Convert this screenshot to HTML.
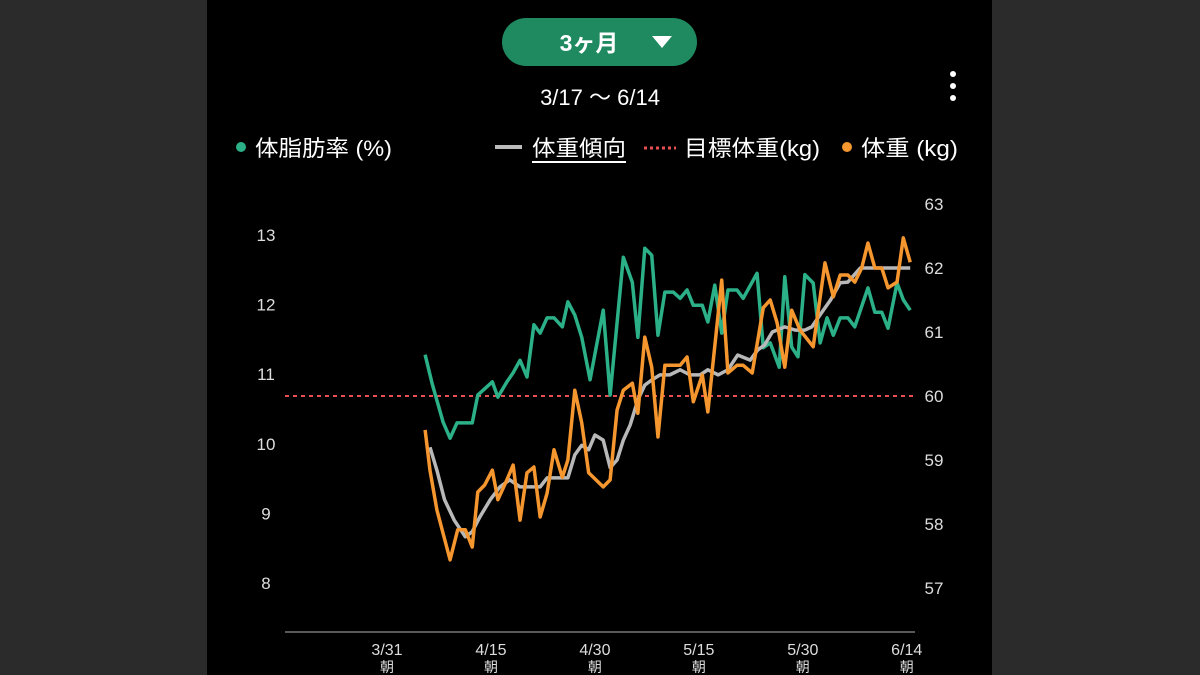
<!DOCTYPE html>
<html><head><meta charset="utf-8"><style>
body{margin:0;width:1200px;height:675px;background:#2b2b2b;overflow:hidden;font-family:"Liberation Sans","Noto Sans CJK JP",sans-serif;}
#panel{position:absolute;left:207px;top:0;width:785px;height:675px;background:#000;}
</style></head><body>
<div id="panel"></div>
<svg width="1200" height="675" style="position:absolute;left:0;top:0">
<g>
<rect x="502" y="18" width="195" height="48" rx="24" fill="#1f8a60"/>
<text x="589" y="51" fill="#fff" font-size="23" font-weight="bold" text-anchor="middle" font-family="Liberation Sans,Noto Sans CJK JP,sans-serif">3ヶ月</text>
<path d="M652 36 L672 36 L662 48 Z" fill="#fff"/>
</g>
<text x="600" y="105" fill="#fff" font-size="22" text-anchor="middle" font-family="Liberation Sans,Noto Sans CJK JP,sans-serif">3/17 ～ 6/14</text>
<g fill="#fff"><circle cx="953" cy="74" r="3"/><circle cx="953" cy="86" r="3"/><circle cx="953" cy="98" r="3"/></g>
<g font-size="22" fill="#fff" font-family="Liberation Sans,Noto Sans CJK JP,sans-serif">
<g><circle cx="241" cy="147" r="5" fill="#2bb088"/><text x="255" y="156" textLength="137" lengthAdjust="spacingAndGlyphs">体脂肪率 (%)</text></g>
<g><rect x="495" y="145" width="27" height="4" fill="#bbb"/><text x="532" y="156" textLength="94" lengthAdjust="spacingAndGlyphs">体重傾向</text><rect x="532" y="161" width="94" height="2" fill="#fff"/></g>
<g><line x1="644" y1="148" x2="676" y2="148" stroke="#e85050" stroke-width="3" stroke-dasharray="3,3"/><text x="684" y="156" textLength="136" lengthAdjust="spacingAndGlyphs">目標体重(kg)</text></g>
<g><circle cx="847" cy="147" r="5" fill="#f5962e"/><text x="861" y="156" textLength="97" lengthAdjust="spacingAndGlyphs">体重 (kg)</text></g>
</g>
<g id="axes"></g>
<g id="marks"></g>
</svg>
<script>
const leftTicks=[8,9,10,11,12,13];
const rightTicks=[57,58,59,60,61,62,63];
const xTickDays=[0,15,30,45,60,75];
const xTickLabels=["3/31","4/15","4/30","5/15","5/30","6/14"];
const targetWeight=60;
const weightDays=[5.5,6.2,7.2,9.1,10.2,11.3,12.3,13.1,14.1,15.2,16,17.3,18.2,19.2,20.2,21.2,22.1,23.1,24.1,25.3,26.1,27.1,28.1,29.1,31.2,32.2,33.2,34.1,35.4,36.2,37.2,38.2,39.1,40.1,40.8,42.3,43.3,44.2,45.5,46.3,48.3,49.2,50.5,51.4,52.7,54.3,55.3,56.3,57.4,58.4,59.6,61.5,63.2,64.4,65.4,66.5,67.5,68.5,69.4,70.4,71.4,72.3,73.6,74.5,75.5];
const weightValues=[59.47,58.84,58.22,57.44,57.91,57.91,57.64,58.5,58.61,58.84,58.38,58.69,58.92,58.06,58.8,58.89,58.11,58.48,59.16,58.73,59.0,60.09,59.58,58.8,58.58,58.69,59.78,60.09,60.2,59.73,60.92,60.45,59.36,60.48,60.48,60.48,60.61,59.91,60.33,59.75,61.81,60.36,60.48,60.48,60.36,61.38,61.5,61.14,60.45,61.34,61.03,60.77,62.08,61.55,61.89,61.89,61.78,62.0,62.39,62.0,62.0,61.69,61.78,62.47,62.09];
const fatDays=[5.5,6.5,8.1,9.1,10.1,12.3,13.1,15.2,16,17.3,18.2,19.2,20.2,21.2,22.1,23.1,24.1,25.3,26.1,27.1,28.1,29.3,31.2,32.2,34.1,35.4,36.2,37.2,38.2,39.1,40.1,41.3,42.3,43.3,44.2,45.5,46.3,47.3,48.3,49.2,50.5,51.4,53.4,54.3,55.3,56.6,57.4,58.4,59.3,60.3,61.5,62.5,63.5,64.4,65.4,66.5,67.5,69.4,70.4,71.4,72.3,73.6,74.5,75.5];
const fatValues=[11.28,10.87,10.31,10.08,10.30,10.30,10.70,10.89,10.67,10.89,11.02,11.20,10.96,11.71,11.59,11.81,11.81,11.68,12.04,11.85,11.53,10.92,11.92,10.70,12.68,12.32,11.53,12.81,12.71,11.56,12.18,12.18,12.09,12.21,11.99,11.99,11.75,12.28,11.59,12.21,12.21,12.09,12.45,11.38,11.45,11.10,12.40,11.39,11.25,12.43,12.31,11.45,11.81,11.56,11.81,11.81,11.68,12.24,11.89,11.89,11.66,12.31,12.07,11.92];
const trendDays=[6.2,7.2,8.3,9.7,11.3,12.3,13.4,14.9,16.3,17.7,19.2,22.1,23.1,26.1,27.1,28.1,29.1,30.0,31.2,32.2,33.2,34.1,35.1,36.2,37.2,38.2,39.4,40.8,42.3,43.7,45.2,46.3,47.8,49.2,50.6,52.4,53.5,54.5,55.6,57.4,58.9,60.3,61.3,62.5,64.0,65.4,66.5,68.3,71.2,75.5];
const trendValues=[59.2,58.84,58.38,58.06,57.8,57.88,58.11,58.38,58.58,58.69,58.58,58.58,58.72,58.72,59.08,59.23,59.16,59.39,59.31,58.88,59.0,59.31,59.55,59.94,60.17,60.25,60.33,60.33,60.41,60.33,60.33,60.41,60.33,60.41,60.64,60.56,60.72,60.8,61.0,61.08,61.03,61.03,61.08,61.27,61.5,61.77,61.78,62.0,62.0,62.0];
const NS="http://www.w3.org/2000/svg";
const xS=d=>387+d*6.93;
const yL=v=>235+(13-v)*69.6;
const yR=v=>204+(63-v)*64;
const axes=document.getElementById('axes'),marks=document.getElementById('marks');
function mk(tag,attrs,parent,txt){const e=document.createElementNS(NS,tag);for(const k in attrs)e.setAttribute(k,attrs[k]);if(txt!==undefined)e.textContent=txt;parent.appendChild(e);return e;}
const base=mk('line',{x1:285,x2:915,y1:632,y2:632,stroke:'#777','stroke-width':1.5},axes);


leftTicks.forEach(v=>{const t=mk('text',{x:266,y:yL(v)+6,fill:'#ddd','font-size':17,'text-anchor':'middle','font-family':'Liberation Sans,sans-serif'},axes,String(v));

});
rightTicks.forEach(v=>{const t=mk('text',{x:934,y:yR(v)+6,fill:'#ddd','font-size':17,'text-anchor':'middle','font-family':'Liberation Sans,sans-serif'},axes,String(v));

});
xTickDays.forEach((d,i)=>{const g=mk('g',{},axes);


mk('text',{x:xS(d),y:655,fill:'#ddd','font-size':16,'text-anchor':'middle','font-family':'Liberation Sans,sans-serif'},g,xTickLabels[i]);
mk('text',{x:xS(d),y:672,fill:'#ddd','font-size':14,'text-anchor':'middle','font-family':'Noto Sans CJK JP,sans-serif'},g,'朝');});
const tg=mk('line',{x1:285,x2:915,y1:yR(targetWeight),y2:yR(targetWeight),stroke:'#e85050','stroke-width':2,'stroke-dasharray':'4,4'},marks);


function line(days,vals,ys,color,name){const p=mk('polyline',{points:days.map((d,i)=>xS(d)+','+ys(vals[i])).join(' '),fill:'none',stroke:color,'stroke-width':3.5,'stroke-linejoin':'round'},marks);

}
line(fatDays,fatValues,yL,'#2bb088','body-fat-line');
line(trendDays,trendValues,yR,'#b8b8b8','weight-trend-line');
line(weightDays,weightValues,yR,'#f5962e','weight-line');
</script>
</body></html>
